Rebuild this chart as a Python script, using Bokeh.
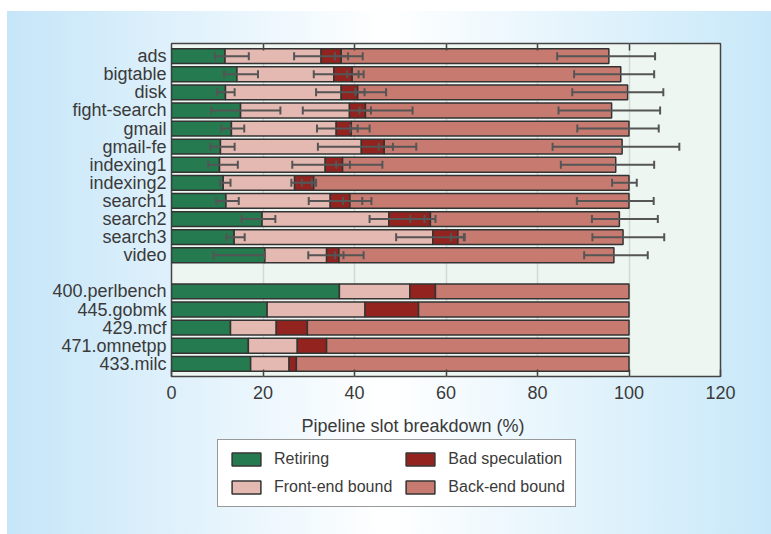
import numpy as np
from bokeh.plotting import figure
from bokeh.layouts import column
from bokeh.models import (FactorRange, ColumnDataSource, Whisker, TeeHead, Legend,
                          LegendItem, LinearAxis, FixedTicker, Label, Range1d)
from bokeh.embed import file_html
from bokeh.resources import INLINE

# ---------------- data ----------------
google = ["ads", "bigtable", "disk", "fight-search", "gmail", "gmail-fe",
          "indexing1", "indexing2", "search1", "search2", "search3", "video"]
spec = ["400.perlbench", "445.gobmk", "429.mcf", "471.omnetpp", "433.milc"]
spacer = " "

series_names = ["Retiring", "Front-end bound", "Bad speculation", "Back-end bound"]

# segment sizes (% of pipeline slots), google rows then spec rows
retiring = [11.7, 14.3, 11.8, 15.1, 13.1, 10.7, 10.5, 11.3, 11.9, 19.8, 13.7, 20.4,
            36.7, 20.9, 12.9, 16.8, 17.3]
frontend = [21.0, 21.2, 25.3, 23.8, 22.9, 30.8, 23.1, 15.6, 22.8, 27.7, 43.4, 13.5,
            15.4, 21.4, 10.0, 10.7, 8.4]
badspec = [4.4, 4.0, 3.6, 3.5, 3.3, 5.0, 3.8, 4.2, 4.3, 9.1, 5.5, 2.7,
           5.6, 11.7, 6.8, 6.4, 1.6]
backend = [58.5, 58.7, 59.0, 53.8, 60.7, 52.0, 59.7, 68.9, 61.0, 41.3, 36.1, 60.1,
           42.3, 46.0, 70.3, 66.1, 72.7]

# error bars (google rows only), lower / upper positions on the cumulative scale
ret_lo = [9.5, 11.5, 10.0, 8.7, 10.9, 8.5, 8.0, 10.6, 9.8, 15.3, 12.0, 9.2]
ret_hi = [16.9, 18.9, 13.8, 23.8, 15.9, 13.8, 14.5, 12.9, 14.7, 22.7, 16.0, 20.4]
fe_lo = [26.8, 31.1, 31.6, 28.7, 31.8, 32.0, 26.4, 26.2, 30.0, 43.3, 49.1, 29.9]
fe_hi = [38.6, 40.9, 42.2, 43.6, 40.7, 48.4, 39.0, 30.7, 41.7, 55.3, 63.9, 37.6]
bs_lo = [35.7, 38.4, 40.2, 41.1, 39.1, 45.3, 36.0, 28.5, 37.5, 52.2, 61.1, 35.7]
bs_hi = [41.8, 42.0, 46.9, 52.7, 43.3, 53.5, 46.1, 31.6, 43.7, 57.7, 64.1, 42.0]
be_lo = [84.3, 88.0, 87.6, 84.6, 88.7, 83.3, 85.1, 96.3, 88.6, 91.9, 92.0, 90.2]
be_hi = [105.7, 105.5, 107.5, 106.8, 106.5, 111.0, 105.5, 101.7, 105.4, 106.3, 107.7, 104.1]

x_ticks = [0, 20, 40, 60, 80, 100, 120]

# ---------------- styling ----------------
colors = ["#257a4f", "#e4b9b1", "#93231f", "#c77b70"]
FONT = "Liberation Sans"
TXT = "#3a3a3a"
GRAD = "linear-gradient(to right, #ffffff 7px, rgba(255,255,255,0) 7px), " \
       "linear-gradient(to right, #c4e5f8 0%, #ffffff 50%, #c8e8f9 100%)"

cats = google + spec
factors = list(reversed(google + [spacer] + spec))

p = figure(width=771, height=410, output_backend="svg", toolbar_location=None,
           title=None,
           y_range=FactorRange(factors=factors, range_padding=0.2,
                               range_padding_units="absolute"),
           x_range=Range1d(0, 120),
           min_border_left=171, min_border_right=51, min_border_top=43,
           min_border_bottom=34)
p.styles = {"background": "linear-gradient(to bottom, #ffffff 11px, rgba(255,255,255,0) 11px), " + GRAD}
p.border_fill_color = None
p.background_fill_color = "#eef6f2"
p.outline_line_color = "#444444"
p.outline_line_width = 1.5

data = np.array([retiring, frontend, badspec, backend])
cum = np.cumsum(data, axis=0)
lefts = np.vstack([np.zeros(len(cats)), cum[:-1]])

for i, name in enumerate(series_names):
    src = ColumnDataSource(dict(y=cats, left=lefts[i], right=cum[i]))
    p.hbar(y="y", left="left", right="right", height=0.82, source=src,
           fill_color=colors[i], line_color="#333333", line_width=1.5)

for lo, hi in [(ret_lo, ret_hi), (fe_lo, fe_hi), (bs_lo, bs_hi), (be_lo, be_hi)]:
    src = ColumnDataSource(dict(y=google, lo=lo, hi=hi))
    w = Whisker(source=src, base="y", lower="lo", upper="hi", dimension="width",
                level="overlay", line_color="#555555", line_width=2,
                lower_head=TeeHead(size=8, line_color="#555555", line_width=2),
                upper_head=TeeHead(size=8, line_color="#555555", line_width=2))
    p.add_layout(w)

# axes
p.xaxis.ticker = FixedTicker(ticks=x_ticks)
p.xaxis.major_tick_in = 7
p.xaxis.major_tick_out = 0
p.xaxis.minor_tick_line_color = None
p.xaxis.major_tick_line_color = "#444444"
p.xaxis.major_tick_line_width = 1.5
p.xaxis.axis_line_color = None
p.xaxis.major_label_text_font = FONT
p.xaxis.major_label_text_font_size = "18px"
p.xaxis.major_label_text_color = TXT
p.xaxis.major_label_standoff = 9

p.yaxis.major_tick_line_color = None
p.yaxis.major_tick_out = 0
p.yaxis.major_tick_in = 0
p.yaxis.axis_line_color = None
p.yaxis.major_label_text_font = FONT
p.yaxis.major_label_text_font_size = "18px"
p.yaxis.major_label_text_color = TXT
p.yaxis.major_label_standoff = 5

top = LinearAxis(ticker=FixedTicker(ticks=x_ticks[1:-1]),
                 major_label_overrides={t: "" for t in x_ticks},
                 major_tick_in=7, major_tick_out=0, minor_tick_line_color=None,
                 major_tick_line_color="#444444", major_tick_line_width=1.5,
                 axis_line_color=None, major_label_text_font_size="1px")
p.add_layout(top, "above")

p.xgrid.ticker = FixedTicker(ticks=x_ticks)
p.xgrid.grid_line_color = "#d3d8d5"
p.xgrid.grid_line_width = 1.5
p.ygrid.grid_line_color = None

# ---------------- bottom panel: axis title + legend ----------------
q = figure(width=771, height=124, output_backend="svg", toolbar_location=None,
           title=None, x_axis_type=None, y_axis_type=None,
           x_range=Range1d(0, 120), y_range=Range1d(0, 1),
           min_border_left=171, min_border_right=51,
           min_border_top=0, min_border_bottom=0)
q.styles = {"background": GRAD}
q.border_fill_color = None
q.background_fill_color = None
q.outline_line_color = None
q.grid.visible = False

swatches = []
for i, name in enumerate(series_names):
    src = ColumnDataSource(dict(y=np.zeros(len(cats)), left=lefts[i], right=cum[i]))
    r = q.hbar(y="y", left="left", right="right", height=0.5, source=src, visible=False,
               fill_color=colors[i], line_color="#333333", line_width=1.5)
    swatches.append(r)

q.add_layout(Label(x=241.5, y=109, x_units="screen", y_units="screen",
                   text="Pipeline slot breakdown (%)", text_align="center",
                   text_baseline="middle", text_font=FONT, text_font_size="18px",
                   text_color=TXT))

legend = Legend(items=[LegendItem(label=n, renderers=[r]) for n, r in zip(series_names, swatches)],
                location=(46, 27), orientation="vertical", nrows=2,
                border_line_color="#333333", border_line_width=1.5,
                background_fill_color="#ffffff", background_fill_alpha=1.0,
                label_text_font=FONT, label_text_font_size="16px", label_text_color=TXT,
                glyph_width=36, glyph_height=16, label_height=16, label_standoff=10,
                padding=10, spacing=10, margin=0)
q.add_layout(legend, "center")

layout = column(p, q, spacing=0)
open("out.html", "w").write(file_html(layout, INLINE))
